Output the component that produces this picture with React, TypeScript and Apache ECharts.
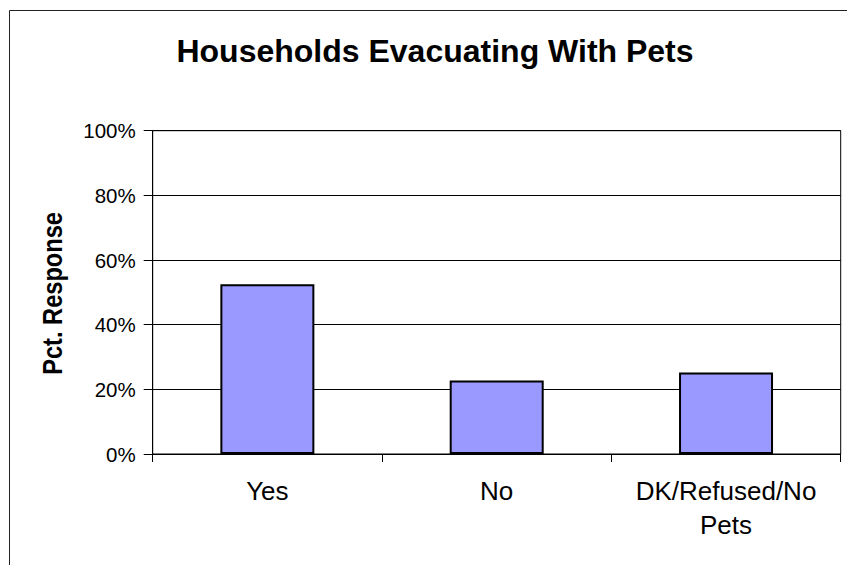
import React, { useEffect, useRef } from "react";
import * as echarts from "echarts";

const categories = ["Yes", "No", "DK/Refused/No\nPets"];
const values = [52.5, 22.7, 25.2];
const yTicks = { min: 0, max: 100, interval: 20 };
const titleText = "Households Evacuating With Pets";
const yAxisTitle = "Pct. Response";

const FONT = "'Liberation Sans', Arial, sans-serif";

export default function App() {
  const ref = useRef<HTMLDivElement>(null);
  useEffect(() => {
    if (!ref.current) return;
    const chart = echarts.init(ref.current, null, { renderer: "svg" });
    chart.setOption({
      animation: false,
      backgroundColor: "#ffffff",
      textStyle: { fontFamily: FONT },
      grid: {
        left: 152.7,
        right: 6.3,
        top: 130.7,
        bottom: 111,
        show: true,
        borderColor: "#000",
        borderWidth: 1,
        backgroundColor: "transparent",
      },
      graphic: [
        {
          type: "rect",
          shape: { x: 9.5, y: 10.5, width: 900, height: 600 },
          style: { fill: "none", stroke: "#222", lineWidth: 1 },
          silent: true,
        },
        {
          type: "text",
          x: 435,
          y: 51,
          style: {
            text: titleText,
            font: `bold 32px ${FONT}`,
            fill: "#000",
            align: "center",
            verticalAlign: "middle",
          },
        },
        {
          type: "text",
          x: 52,
          y: 293.4,
          rotation: Math.PI / 2,
          scaleX: 0.875,
          style: {
            text: yAxisTitle,
            font: `bold 27px ${FONT}`,
            fill: "#000",
            align: "center",
            verticalAlign: "middle",
          },
        },
      ],
      xAxis: {
        type: "category",
        data: categories,
        boundaryGap: true,
        axisLine: { show: true, lineStyle: { color: "#000", width: 1 } },
        axisTick: { show: true, length: 8, alignWithLabel: false, lineStyle: { color: "#000" } },
        axisLabel: {
          interval: 0,
          margin: 20,
          fontSize: 26,
          lineHeight: 34,
          color: "#000",
          fontFamily: FONT,
        },
        splitLine: { show: false },
      },
      yAxis: {
        type: "value",
        min: yTicks.min,
        max: yTicks.max,
        interval: yTicks.interval,
        axisLine: { show: true, lineStyle: { color: "#000", width: 1 } },
        axisTick: { show: true, length: 9, lineStyle: { color: "#000" } },
        axisLabel: {
          formatter: "{value}%",
          margin: 17,
          fontSize: 20.5,
          color: "#000",
          fontFamily: FONT,
        },
        splitLine: { show: true, lineStyle: { color: "#000", width: 1 } },
      },
      series: [
        {
          type: "bar",
          data: values,
          barWidth: 94,
          itemStyle: { color: "#9999FF", borderColor: "#000", borderWidth: 2 },
        },
      ],
    });
    return () => chart.dispose();
  }, []);
  return (
    <div
      ref={ref}
      style={{ position: "fixed", left: 0, top: 0, width: 847, height: 565 }}
    />
  );
}
